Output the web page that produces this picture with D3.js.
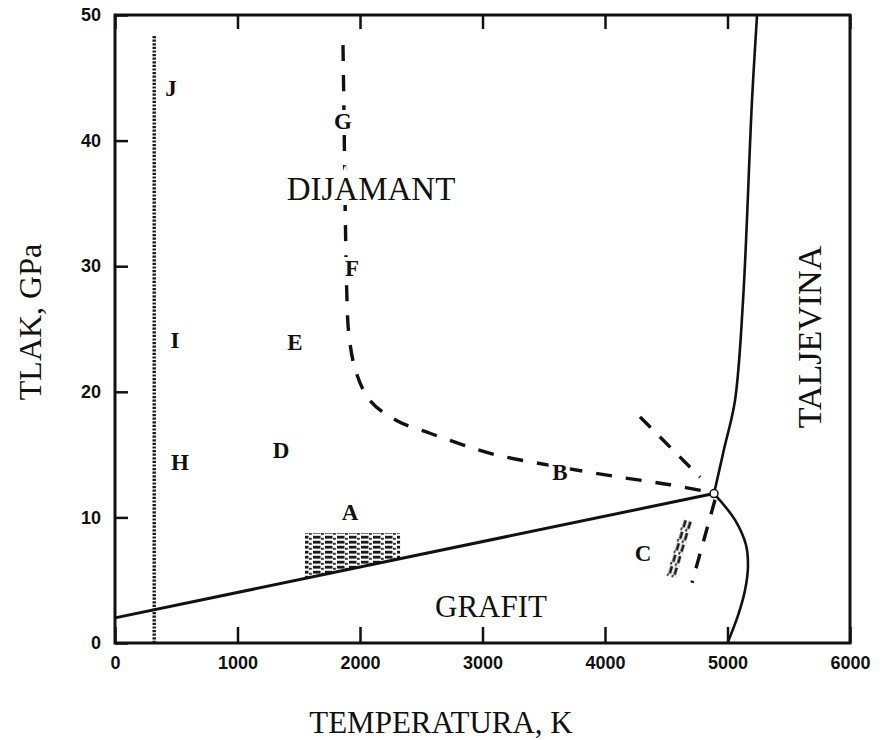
<!DOCTYPE html>
<html>
<head>
<meta charset="utf-8">
<script src="https://d3js.org/d3.v7.min.js"></script>
<style>
  body { margin: 0; background: #fff; }
  .tick text { font-family: "Liberation Sans", Arial, sans-serif; font-weight: bold; font-size: 18px; fill: #111; }
  .lbl { font-family: "Liberation Serif", "Times New Roman", serif; fill: #111; }
</style>
</head>
<body>
<div id="chart"></div>
<script>
// axis ticks
var xTicks = [0, 1000, 2000, 3000, 4000, 5000, 6000];
var yTicks = [0, 10, 20, 30, 40, 50];

// phase boundaries, [T (K), P (GPa)]
var graphiteDiamond = [[0, 2.0], [4890, 11.9]];
var diamondMelt = [[4890, 11.9], [4971, 15.4], [5061, 19.3], [5127, 27.3], [5200, 43.2], [5241, 50]];
var graphiteMelt = [[4890, 11.9], [5061, 9.8], [5151, 7.8], [5167, 6.05], [5143, 4.2], [5086, 2.2], [5000, 0]];
var kineticLine = [[1861, 47.6], [1869, 42.4], [1878, 35.3], [1894, 27.3], [1910, 24.5], [1967, 21.6], [2082, 19.3],
                   [2302, 17.7], [2571, 16.7], [2833, 15.8], [3102, 15.0], [3633, 14.0], [4122, 13.2], [4531, 12.6], [4860, 12.0]];
var upperDash = [[4286, 18.0], [4776, 13.2]];
var lowerDash = [[4898, 11.4], [4710, 4.8]];
var roomTemp = [[320, 0], [320, 48.4]];
var regionA = [1551, 2327, 8.76]; // T from, T to, top P
var bandC = [[4678, 9.8], [4539, 5.25]];
var triplePoint = [4890, 11.9];

// letters
var letters = ["J", "G", "F", "I", "E", "H", "D", "A", "B", "C"];
var letterT = [457, 1861, 1935, 490, 1469, 531, 1355, 1918, 3633, 4310];
var letterP = [44.2, 41.6, 29.9, 24.1, 24.0, 14.4, 15.4, 10.4, 13.6, 7.2];

var width = 884, height = 740;
var x = d3.scaleLinear().domain([0, 6000]).range([115, 850]);
var y = d3.scaleLinear().domain([0, 50]).range([643, 15]);

var svg = d3.select("#chart").append("svg")
  .attr("width", width)
  .attr("height", height);

svg.append("rect").attr("width", width).attr("height", height).attr("fill", "#fff");

var defs = svg.append("defs");
var pat = defs.append("pattern").attr("id", "hatch").attr("patternUnits", "userSpaceOnUse")
  .attr("width", 12).attr("height", 5);
pat.append("rect").attr("width", 12).attr("height", 5).attr("fill", "#fff");
pat.append("rect").attr("x", 1).attr("y", 0.8).attr("width", 7.5).attr("height", 2.8).attr("fill", "#1a1a1a");
pat.append("rect").attr("x", 9).attr("y", 2.8).attr("width", 2.8).attr("height", 2).attr("fill", "#333");

// axes
var gx = svg.append("g").attr("transform", "translate(0," + y(0) + ")")
  .call(d3.axisBottom(x).tickValues(xTicks).tickSize(-16).tickPadding(10).tickFormat(d3.format("d")));
var gt = svg.append("g").attr("transform", "translate(0," + y(50) + ")")
  .call(d3.axisTop(x).tickValues(xTicks).tickSize(-14).tickFormat(""));
var gy = svg.append("g").attr("transform", "translate(" + x(0) + ",0)")
  .call(d3.axisLeft(y).tickValues(yTicks).tickSize(-13).tickPadding(14));
[gx, gt, gy].forEach(function(g) {
  g.select(".domain").remove();
  g.selectAll(".tick line").attr("stroke", "#111").attr("stroke-width", 2.5);
});
gx.selectAll(".tick text").attr("dy", "0.9em");

// frame
svg.append("rect")
  .attr("x", x(0)).attr("y", y(50))
  .attr("width", x(6000) - x(0)).attr("height", y(0) - y(50))
  .attr("fill", "none").attr("stroke", "#111").attr("stroke-width", 3);

var line = d3.line().x(function(d) { return x(d[0]); }).y(function(d) { return y(d[1]); });
var curve = d3.line().x(function(d) { return x(d[0]); }).y(function(d) { return y(d[1]); }).curve(d3.curveCatmullRom);

// hatched region A, bottom on graphite/diamond line
var slope = (graphiteDiamond[1][1] - graphiteDiamond[0][1]) / (graphiteDiamond[1][0] - graphiteDiamond[0][0]);
function pLine(t) { return graphiteDiamond[0][1] + slope * t; }
var polyA = [[regionA[0], regionA[2]], [regionA[1], regionA[2]], [regionA[1], pLine(regionA[1])], [regionA[0], pLine(regionA[0])]];
svg.append("path").attr("d", line(polyA) + "Z").attr("fill", "url(#hatch)");

// band near C
var bx0 = x(bandC[0][0]), by0 = y(bandC[0][1]), bx1 = x(bandC[1][0]), by1 = y(bandC[1][1]);
var ang = Math.atan2(by1 - by0, bx1 - bx0) * 180 / Math.PI;
var blen = Math.hypot(bx1 - bx0, by1 - by0);
var band = svg.append("g").attr("transform", "translate(" + bx0 + "," + by0 + ") rotate(" + ang + ")");
band.append("rect").attr("x", 0).attr("y", -5).attr("width", blen).attr("height", 10).attr("fill", "url(#hatch)");

// solid lines
svg.append("path").attr("d", line(graphiteDiamond)).attr("fill", "none").attr("stroke", "#111").attr("stroke-width", 3);
svg.append("path").attr("d", curve(diamondMelt)).attr("fill", "none").attr("stroke", "#111").attr("stroke-width", 2.6);
svg.append("path").attr("d", curve(graphiteMelt)).attr("fill", "none").attr("stroke", "#111").attr("stroke-width", 2.6);

// dashed lines
svg.append("path").attr("d", curve(kineticLine)).attr("fill", "none").attr("stroke", "#111")
  .attr("stroke-width", 3.4).attr("stroke-dasharray", "16,14");
[upperDash, lowerDash].forEach(function(d) {
  svg.append("path").attr("d", line(d)).attr("fill", "none").attr("stroke", "#111")
    .attr("stroke-width", 3.4).attr("stroke-dasharray", "15,13");
});

// dotted room temperature line
svg.append("path").attr("d", line(roomTemp)).attr("fill", "none").attr("stroke", "#1a1a1a")
  .attr("stroke-width", 3.4).attr("stroke-dasharray", "2.2,1.4");

// triple point
svg.append("circle").attr("cx", x(triplePoint[0])).attr("cy", y(triplePoint[1])).attr("r", 4)
  .attr("fill", "#fff").attr("stroke", "#111").attr("stroke-width", 1.5);

// letters (white halo breaks the dashed line as in the print)
svg.selectAll(".letter").data(letters).enter().append("text")
  .attr("class", "lbl letter")
  .attr("x", function(d, i) { return x(letterT[i]); })
  .attr("y", function(d, i) { return y(letterP[i]); })
  .attr("dy", "0.35em")
  .attr("text-anchor", "middle")
  .attr("font-size", 23).attr("font-weight", "bold")
  .attr("stroke", "#fff").attr("stroke-width", 8).attr("paint-order", "stroke")
  .text(function(d) { return d; });

// region names
svg.append("text").attr("class", "lbl").attr("x", 371).attr("y", 200).attr("text-anchor", "middle")
  .attr("font-size", 33).attr("stroke", "#fff").attr("stroke-width", 10).attr("paint-order", "stroke")
  .text("DIJAMANT");
svg.append("text").attr("class", "lbl").attr("x", 491).attr("y", 617).attr("text-anchor", "middle")
  .attr("font-size", 31).text("GRAFIT");
svg.append("text").attr("class", "lbl").attr("transform", "translate(821,337) rotate(-90)").attr("text-anchor", "middle")
  .attr("font-size", 34).text("TALJEVINA");

// axis titles
svg.append("text").attr("class", "lbl").attr("x", 441).attr("y", 733).attr("text-anchor", "middle")
  .attr("font-size", 31).text("TEMPERATURA, K");
svg.append("text").attr("class", "lbl").attr("transform", "translate(41,322) rotate(-90)").attr("text-anchor", "middle")
  .attr("font-size", 32).text("TLAK, GPa");
</script>
</body>
</html>
